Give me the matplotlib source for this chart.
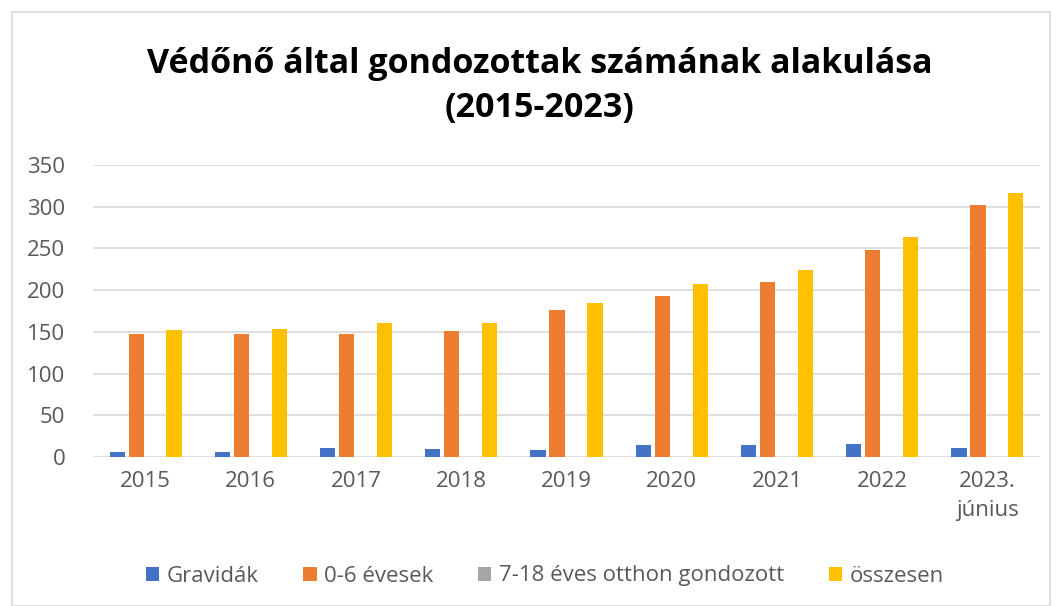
import matplotlib
matplotlib.use("Agg")
import matplotlib.pyplot as plt
import numpy as np
from matplotlib.patches import Rectangle

categories = ["2015", "2016", "2017", "2018", "2019", "2020", "2021", "2022", "2023.\njúnius"]
gravidak = [6, 6, 11, 10, 8, 14, 14, 16, 11]
evesek_0_6 = [148, 148, 148, 151, 176, 193, 210, 248, 302]
evesek_7_18 = [0, 0, 0, 0, 0, 0, 0, 0, 0]
osszesen = [152, 154, 161, 161, 185, 207, 224, 264, 316]

series = [
    ("Gravidák", gravidak, "#4472C4"),
    ("0-6 évesek", evesek_0_6, "#ED7D31"),
    ("7-18 éves otthon gondozott", evesek_7_18, "#A5A5A5"),
    ("összesen", osszesen, "#FFC000"),
]

plt.rcParams['font.family'] = ['Open Sans', 'DejaVu Sans']

fig = plt.figure(figsize=(10.56, 6.06), dpi=100)
W, H = 1056, 606
ax = fig.add_axes([93 / W, 1 - 457 / H, (1040 - 93) / W, (457 - 165) / H])

x = np.arange(len(categories))
step = 0.18
width = 0.145
for i, (name, vals, col) in enumerate(series):
    ax.bar(x + (i - 1.5) * step, vals, width, color=col, label=name, zorder=3)

ax.set_xlim(-0.5, len(categories) - 0.5)
ax.set_ylim(0, 350)
ax.set_yticks(range(0, 351, 50))
ax.set_xticks(x)
ax.set_xticklabels(categories, linespacing=1.5)
ax.grid(axis='y', color='#D9D9D9', linewidth=1.2, zorder=0)
for s in ax.spines.values():
    s.set_visible(False)
ax.tick_params(axis='both', length=0, labelsize=16, labelcolor='#595959')
ax.tick_params(axis='x', pad=10)
ax.tick_params(axis='y', pad=20)

fig.text(540 / W, 1 - 86 / H, "Védőnő által gondozottak számának alakulása\n(2015-2023)",
         ha='center', va='center', fontsize=24.5, fontweight='bold', color='black',
         linespacing=1.35)

leg = fig.legend(loc='center', bbox_to_anchor=(545 / W, 1 - 576 / H), ncol=4,
                 frameon=False, fontsize=16, handlelength=0.6, handleheight=0.6,
                 handletextpad=0.35, columnspacing=2.0)
for t in leg.get_texts():
    t.set_color('#595959')

fig.patches.append(Rectangle((12 / W, 0.0), (1050 - 12) / W, 1 - 12 / H,
                             transform=fig.transFigure, fill=False,
                             edgecolor='#D9D9D9', linewidth=1.2))

fig.savefig("out.png", dpi=100)
